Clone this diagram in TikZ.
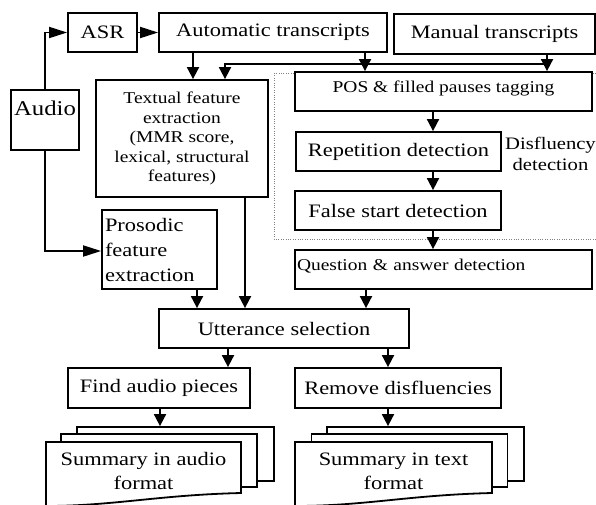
\documentclass[tikz,border=0pt]{standalone}
\usepackage{fontspec}
\setmainfont{Liberation Serif}[FakeStretch=1.18]
\usetikzlibrary{arrows.meta}
\newcommand\bigfnt{\fontsize{19}{25}\selectfont}
\newcommand\smallfnt{\fontsize{16.5}{19.5}\selectfont}
\begin{document}
\begin{tikzpicture}[x=1pt,y=-1pt,
  box/.style={draw=black, line width=1.8pt, fill=white, inner sep=2pt, font=\bigfnt},
  page/.style={draw=black, line width=1.8pt, fill=white},
  arrv/.style={line width=1.8pt, -{Triangle[length=12pt,width=12pt]}},
  arrh/.style={line width=1.8pt, -{Triangle[length=18pt,width=11pt]}}]
\useasboundingbox (0,0) rectangle (596,504);
% dotted disfluency region
\draw[gray, line width=0.9pt, dash pattern=on 1pt off 1.4pt] (274,73) rectangle (604,239);
% boxes
\node[box, minimum width=69pt, minimum height=39pt] (asr) at (102.5,32.5) {ASR};
\node[box, minimum width=228pt, minimum height=39pt] (auto) at (273,32.5) {Automatic transcripts};
\node[box, minimum width=201pt, minimum height=40pt] (manual) at (494.5,34) {Manual transcripts};
\node[box, minimum width=68pt, minimum height=60pt, font=\fontsize{21}{25}\selectfont, text height=12pt, text depth=22pt] (audio) at (45,120) {Audio};
\node[box, minimum width=172pt, minimum height=117pt, font=\smallfnt, align=center] (textual) at (182,138.5) {Textual feature\\extraction\\(MMR score,\\lexical, structural\\features)};
\node[box, minimum width=297pt, minimum height=39pt, font=\smallfnt, text height=12pt, text depth=11pt] (pos) at (443.5,91.5) {POS \& filled pauses tagging};
\node[box, minimum width=205pt, minimum height=39pt] (rep) at (398.5,151.5) {Repetition detection};
\node[box, minimum width=206pt, minimum height=39pt] (fsd) at (398,210.5) {False start detection};
\node[box, minimum width=297pt, minimum height=39pt, font=\smallfnt, text height=12pt, text depth=11pt, text width=293pt, align=left] (qa) at (443.5,269.5) {Question \& answer detection};
\node[box, minimum width=115pt, minimum height=79pt, inner sep=3pt, text width=109pt, align=left] (pros) at (159.5,249.5) {Prosodic\\feature\\extraction};
\node[box, minimum width=250pt, minimum height=39pt] (utt) at (284,328.5) {Utterance selection};
\node[box, minimum width=182pt, minimum height=40pt] (find) at (159,388) {Find audio pieces};
\node[box, minimum width=206pt, minimum height=40pt] (remove) at (398,388) {Remove disfluencies};
\node[font=\fontsize{17.5}{21}\selectfont, align=center, anchor=north west, inner sep=0pt] (disfl) at (505,137) {Disfluency\\detection};
% document stacks (audio)
\node[page, minimum width=197pt, minimum height=54pt] (auback) at (175.5,454) {};
\node[page, minimum width=196pt, minimum height=53pt] (aumid) at (159,460.5) {};
\draw[page] (46,442) -- (241,442) -- (241,493) .. controls (200,494) and (170,497) .. (140,500) .. controls (110,503) and (80,506) .. (46,506) -- cycle;
\node[font=\fontsize{19}{24}\selectfont, align=center] (autxt) at (143.5,471) {Summary in audio\\format};
% document stacks (text)
\node[page, minimum width=197pt, minimum height=54pt] (txback) at (425.5,454) {};
\node[page, minimum width=196pt, minimum height=53pt] (txmid) at (409.5,460.5) {};
\draw[page] (295,442) -- (492,442) -- (492,493) .. controls (451,494) and (421,497) .. (391,500) .. controls (361,503) and (331,506) .. (295,506) -- cycle;
\node[font=\fontsize{19}{24}\selectfont, align=center] (txtxt) at (393.5,471) {Summary in text\\format};
% connectors
\draw[arrh] (audio.north) |- (asr.west);
\draw[arrh] (asr.east) -- (auto.west);
\draw[arrh] (audio.south) |- ([yshift=-1.5pt]pros.west);
\draw[arrv] ([xshift=-80pt]auto.south) -- ([xshift=-80pt]auto.south |- textual.north);
\draw[arrv] ([xshift=92pt]auto.south) -- ([xshift=92pt]auto.south |- pos.north);
\draw[arrv] ([xshift=52.5pt]manual.south) -- ([xshift=52.5pt]manual.south |- pos.north);
\coordinate (junc) at (547,64);
\draw[arrv] (junc) -| ([xshift=43pt]textual.north);
\draw[arrv] ([xshift=-10.5pt]pos.south) -- ([xshift=-10.5pt]pos.south |- rep.north);
\draw[arrv] ([xshift=34.5pt]rep.south) -- ([xshift=34.5pt]rep.south |- fsd.north);
\draw[arrv] ([xshift=35pt]fsd.south) -- ([xshift=35pt]fsd.south |- qa.north);
\draw[arrv] ([xshift=37.5pt]pros.south) -- ([xshift=37.5pt]pros.south |- utt.north);
\draw[arrv] ([xshift=63pt]textual.south) -- ([xshift=63pt]textual.south |- utt.north);
\draw[arrv] ([xshift=-77.5pt]qa.south) -- ([xshift=-77.5pt]qa.south |- utt.north);
\draw[arrv] ([xshift=-56pt]utt.south) -- ([xshift=-56pt]utt.south |- find.north);
\draw[arrv] ([xshift=104pt]utt.south) -- ([xshift=104pt]utt.south |- remove.north);
\draw[arrv] ([xshift=1pt]find.south) -- ([xshift=1pt]find.south |- auback.north);
\draw[arrv] ([xshift=-10pt]remove.south) -- ([xshift=-10pt]remove.south |- txback.north);
\end{tikzpicture}
\end{document}
